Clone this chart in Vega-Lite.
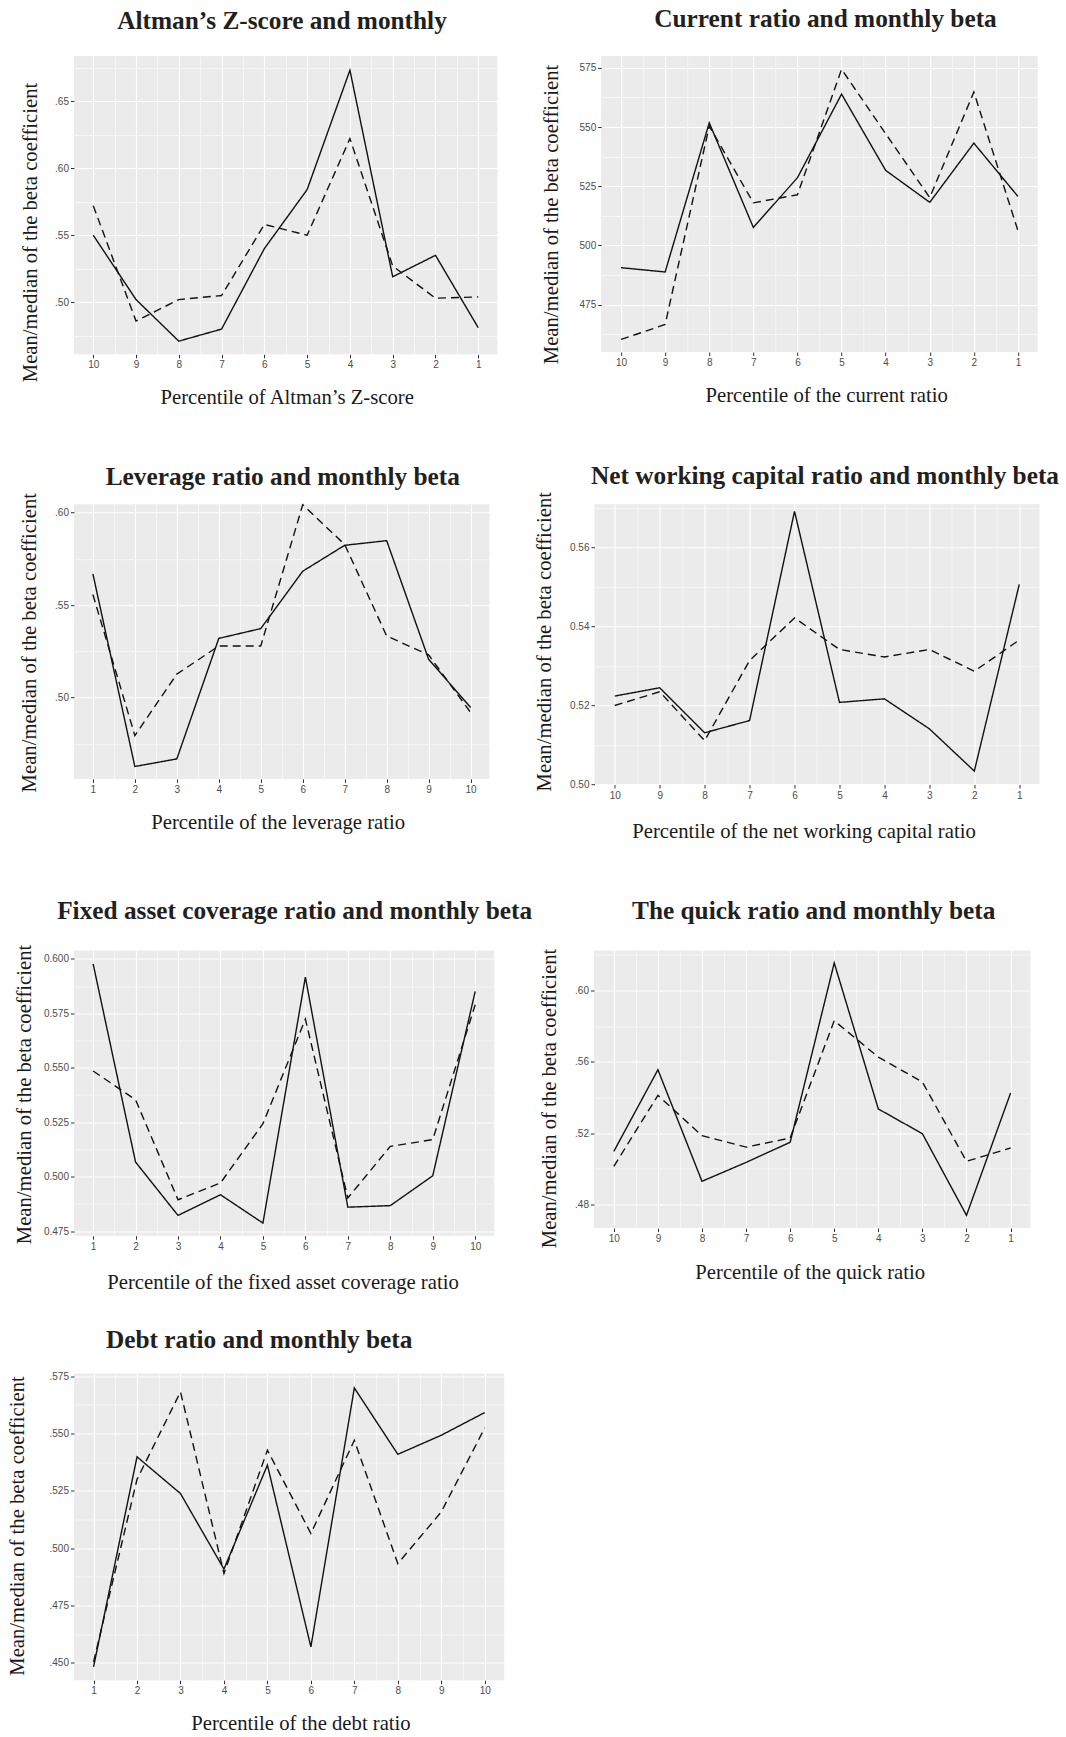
{
  "$schema": "https://vega.github.io/schema/vega-lite/v6.json",
  "background": "white",
  "padding": {"left": 6, "top": 6, "right": 0, "bottom": 0},
  "data": {
    "values": [
      {"panel": "altman", "pct": 10, "stat": "mean", "beta": 0.550},
      {"panel": "altman", "pct": 9, "stat": "mean", "beta": 0.502},
      {"panel": "altman", "pct": 8, "stat": "mean", "beta": 0.471},
      {"panel": "altman", "pct": 7, "stat": "mean", "beta": 0.480},
      {"panel": "altman", "pct": 6, "stat": "mean", "beta": 0.540},
      {"panel": "altman", "pct": 5, "stat": "mean", "beta": 0.584},
      {"panel": "altman", "pct": 4, "stat": "mean", "beta": 0.673},
      {"panel": "altman", "pct": 3, "stat": "mean", "beta": 0.519},
      {"panel": "altman", "pct": 2, "stat": "mean", "beta": 0.535},
      {"panel": "altman", "pct": 1, "stat": "mean", "beta": 0.481},
      {"panel": "altman", "pct": 10, "stat": "median", "beta": 0.572},
      {"panel": "altman", "pct": 9, "stat": "median", "beta": 0.486},
      {"panel": "altman", "pct": 8, "stat": "median", "beta": 0.502},
      {"panel": "altman", "pct": 7, "stat": "median", "beta": 0.505},
      {"panel": "altman", "pct": 6, "stat": "median", "beta": 0.558},
      {"panel": "altman", "pct": 5, "stat": "median", "beta": 0.550},
      {"panel": "altman", "pct": 4, "stat": "median", "beta": 0.622},
      {"panel": "altman", "pct": 3, "stat": "median", "beta": 0.527},
      {"panel": "altman", "pct": 2, "stat": "median", "beta": 0.503},
      {"panel": "altman", "pct": 1, "stat": "median", "beta": 0.504},

      {"panel": "current", "pct": 10, "stat": "mean", "beta": 0.4906},
      {"panel": "current", "pct": 9, "stat": "mean", "beta": 0.4888},
      {"panel": "current", "pct": 8, "stat": "mean", "beta": 0.5518},
      {"panel": "current", "pct": 7, "stat": "mean", "beta": 0.5076},
      {"panel": "current", "pct": 6, "stat": "mean", "beta": 0.5286},
      {"panel": "current", "pct": 5, "stat": "mean", "beta": 0.5639},
      {"panel": "current", "pct": 4, "stat": "mean", "beta": 0.5317},
      {"panel": "current", "pct": 3, "stat": "mean", "beta": 0.5182},
      {"panel": "current", "pct": 2, "stat": "mean", "beta": 0.5432},
      {"panel": "current", "pct": 1, "stat": "mean", "beta": 0.5207},
      {"panel": "current", "pct": 10, "stat": "median", "beta": 0.4603},
      {"panel": "current", "pct": 9, "stat": "median", "beta": 0.4666},
      {"panel": "current", "pct": 8, "stat": "median", "beta": 0.5504},
      {"panel": "current", "pct": 7, "stat": "median", "beta": 0.5180},
      {"panel": "current", "pct": 6, "stat": "median", "beta": 0.5214},
      {"panel": "current", "pct": 5, "stat": "median", "beta": 0.5744},
      {"panel": "current", "pct": 4, "stat": "median", "beta": 0.5472},
      {"panel": "current", "pct": 3, "stat": "median", "beta": 0.5202},
      {"panel": "current", "pct": 2, "stat": "median", "beta": 0.5648},
      {"panel": "current", "pct": 1, "stat": "median", "beta": 0.5062},

      {"panel": "leverage", "pct": 1, "stat": "mean", "beta": 0.5669},
      {"panel": "leverage", "pct": 2, "stat": "mean", "beta": 0.4628},
      {"panel": "leverage", "pct": 3, "stat": "mean", "beta": 0.4669},
      {"panel": "leverage", "pct": 4, "stat": "mean", "beta": 0.5320},
      {"panel": "leverage", "pct": 5, "stat": "mean", "beta": 0.5373},
      {"panel": "leverage", "pct": 6, "stat": "mean", "beta": 0.5683},
      {"panel": "leverage", "pct": 7, "stat": "mean", "beta": 0.5823},
      {"panel": "leverage", "pct": 8, "stat": "mean", "beta": 0.5848},
      {"panel": "leverage", "pct": 9, "stat": "mean", "beta": 0.5207},
      {"panel": "leverage", "pct": 10, "stat": "mean", "beta": 0.4947},
      {"panel": "leverage", "pct": 1, "stat": "median", "beta": 0.5557},
      {"panel": "leverage", "pct": 2, "stat": "median", "beta": 0.4795},
      {"panel": "leverage", "pct": 3, "stat": "median", "beta": 0.5127},
      {"panel": "leverage", "pct": 4, "stat": "median", "beta": 0.5279},
      {"panel": "leverage", "pct": 5, "stat": "median", "beta": 0.5279},
      {"panel": "leverage", "pct": 6, "stat": "median", "beta": 0.6042},
      {"panel": "leverage", "pct": 7, "stat": "median", "beta": 0.5827},
      {"panel": "leverage", "pct": 8, "stat": "median", "beta": 0.5333},
      {"panel": "leverage", "pct": 9, "stat": "median", "beta": 0.5231},
      {"panel": "leverage", "pct": 10, "stat": "median", "beta": 0.4920},

      {"panel": "nwc", "pct": 10, "stat": "mean", "beta": 0.5224},
      {"panel": "nwc", "pct": 9, "stat": "mean", "beta": 0.5245},
      {"panel": "nwc", "pct": 8, "stat": "mean", "beta": 0.5131},
      {"panel": "nwc", "pct": 7, "stat": "mean", "beta": 0.5162},
      {"panel": "nwc", "pct": 6, "stat": "mean", "beta": 0.5692},
      {"panel": "nwc", "pct": 5, "stat": "mean", "beta": 0.5208},
      {"panel": "nwc", "pct": 4, "stat": "mean", "beta": 0.5217},
      {"panel": "nwc", "pct": 3, "stat": "mean", "beta": 0.5141},
      {"panel": "nwc", "pct": 2, "stat": "mean", "beta": 0.5034},
      {"panel": "nwc", "pct": 1, "stat": "mean", "beta": 0.5507},
      {"panel": "nwc", "pct": 10, "stat": "median", "beta": 0.5200},
      {"panel": "nwc", "pct": 9, "stat": "median", "beta": 0.5235},
      {"panel": "nwc", "pct": 8, "stat": "median", "beta": 0.5111},
      {"panel": "nwc", "pct": 7, "stat": "median", "beta": 0.5314},
      {"panel": "nwc", "pct": 6, "stat": "median", "beta": 0.5422},
      {"panel": "nwc", "pct": 5, "stat": "median", "beta": 0.5342},
      {"panel": "nwc", "pct": 4, "stat": "median", "beta": 0.5323},
      {"panel": "nwc", "pct": 3, "stat": "median", "beta": 0.5342},
      {"panel": "nwc", "pct": 2, "stat": "median", "beta": 0.5287},
      {"panel": "nwc", "pct": 1, "stat": "median", "beta": 0.5366},

      {"panel": "fixed", "pct": 1, "stat": "mean", "beta": 0.5977},
      {"panel": "fixed", "pct": 2, "stat": "mean", "beta": 0.5067},
      {"panel": "fixed", "pct": 3, "stat": "mean", "beta": 0.4822},
      {"panel": "fixed", "pct": 4, "stat": "mean", "beta": 0.4917},
      {"panel": "fixed", "pct": 5, "stat": "mean", "beta": 0.4787},
      {"panel": "fixed", "pct": 6, "stat": "mean", "beta": 0.5916},
      {"panel": "fixed", "pct": 7, "stat": "mean", "beta": 0.4860},
      {"panel": "fixed", "pct": 8, "stat": "mean", "beta": 0.4867},
      {"panel": "fixed", "pct": 9, "stat": "mean", "beta": 0.5004},
      {"panel": "fixed", "pct": 10, "stat": "mean", "beta": 0.5850},
      {"panel": "fixed", "pct": 1, "stat": "median", "beta": 0.5485},
      {"panel": "fixed", "pct": 2, "stat": "median", "beta": 0.5353},
      {"panel": "fixed", "pct": 3, "stat": "median", "beta": 0.4894},
      {"panel": "fixed", "pct": 4, "stat": "median", "beta": 0.4971},
      {"panel": "fixed", "pct": 5, "stat": "median", "beta": 0.5243},
      {"panel": "fixed", "pct": 6, "stat": "median", "beta": 0.5723},
      {"panel": "fixed", "pct": 7, "stat": "median", "beta": 0.4902},
      {"panel": "fixed", "pct": 8, "stat": "median", "beta": 0.5139},
      {"panel": "fixed", "pct": 9, "stat": "median", "beta": 0.5170},
      {"panel": "fixed", "pct": 10, "stat": "median", "beta": 0.5789},

      {"panel": "quick", "pct": 10, "stat": "mean", "beta": 0.5097},
      {"panel": "quick", "pct": 9, "stat": "mean", "beta": 0.5555},
      {"panel": "quick", "pct": 8, "stat": "mean", "beta": 0.4929},
      {"panel": "quick", "pct": 7, "stat": "mean", "beta": 0.5035},
      {"panel": "quick", "pct": 6, "stat": "mean", "beta": 0.5148},
      {"panel": "quick", "pct": 5, "stat": "mean", "beta": 0.6154},
      {"panel": "quick", "pct": 4, "stat": "mean", "beta": 0.5335},
      {"panel": "quick", "pct": 3, "stat": "mean", "beta": 0.5196},
      {"panel": "quick", "pct": 2, "stat": "mean", "beta": 0.4738},
      {"panel": "quick", "pct": 1, "stat": "mean", "beta": 0.5424},
      {"panel": "quick", "pct": 10, "stat": "median", "beta": 0.5013},
      {"panel": "quick", "pct": 9, "stat": "median", "beta": 0.5411},
      {"panel": "quick", "pct": 8, "stat": "median", "beta": 0.5185},
      {"panel": "quick", "pct": 7, "stat": "median", "beta": 0.5121},
      {"panel": "quick", "pct": 6, "stat": "median", "beta": 0.5172},
      {"panel": "quick", "pct": 5, "stat": "median", "beta": 0.5830},
      {"panel": "quick", "pct": 4, "stat": "median", "beta": 0.5626},
      {"panel": "quick", "pct": 3, "stat": "median", "beta": 0.5486},
      {"panel": "quick", "pct": 2, "stat": "median", "beta": 0.5041},
      {"panel": "quick", "pct": 1, "stat": "median", "beta": 0.5116},

      {"panel": "debt", "pct": 1, "stat": "mean", "beta": 0.4483},
      {"panel": "debt", "pct": 2, "stat": "mean", "beta": 0.5398},
      {"panel": "debt", "pct": 3, "stat": "mean", "beta": 0.5238},
      {"panel": "debt", "pct": 4, "stat": "mean", "beta": 0.4909},
      {"panel": "debt", "pct": 5, "stat": "mean", "beta": 0.5362},
      {"panel": "debt", "pct": 6, "stat": "mean", "beta": 0.4570},
      {"panel": "debt", "pct": 7, "stat": "mean", "beta": 0.5698},
      {"panel": "debt", "pct": 8, "stat": "mean", "beta": 0.5409},
      {"panel": "debt", "pct": 9, "stat": "mean", "beta": 0.5492},
      {"panel": "debt", "pct": 10, "stat": "mean", "beta": 0.5591},
      {"panel": "debt", "pct": 1, "stat": "median", "beta": 0.4505},
      {"panel": "debt", "pct": 2, "stat": "median", "beta": 0.5300},
      {"panel": "debt", "pct": 3, "stat": "median", "beta": 0.5681},
      {"panel": "debt", "pct": 4, "stat": "median", "beta": 0.4890},
      {"panel": "debt", "pct": 5, "stat": "median", "beta": 0.5427},
      {"panel": "debt", "pct": 6, "stat": "median", "beta": 0.5064},
      {"panel": "debt", "pct": 7, "stat": "median", "beta": 0.5470},
      {"panel": "debt", "pct": 8, "stat": "median", "beta": 0.4933},
      {"panel": "debt", "pct": 9, "stat": "median", "beta": 0.5158},
      {"panel": "debt", "pct": 10, "stat": "median", "beta": 0.5524}
    ]
  },
  "spacing": 55.2,
  "vconcat": [
    {
      "bounds": "flush",
      "spacing": 103.2,
      "hconcat": [
        {
          "width": 423.5, "height": 298.3,
          "title": {"text": "Altman’s Z-score and monthly", "offset": 22, "dx": -3.75},
          "transform": [{"filter": "datum.panel === 'altman'"}],
          "mark": {"type": "line", "strokeWidth": 1.4, "color": "#111111"},
          "encoding": {
            "x": {"field": "pct", "type": "quantitative",
              "scale": {"domain": [0.55, 10.45], "reverse": true, "nice": false, "zero": false},
              "axis": {"title": "Percentile of Altman’s Z-score", "titlePadding": 18, "titleX": 212.7,
                "values": [1, 1.5, 2, 2.5, 3, 3.5, 4, 4.5, 5, 5.5, 6, 6.5, 7, 7.5, 8, 8.5, 9, 9.5, 10],
                "labelExpr": "datum.value % 1 ? '' : format(datum.value, 'd')",
                "tickOpacity": {"condition": {"test": "datum.value % 1 != 0", "value": 0}, "value": 1},
                "gridWidth": {"condition": {"test": "datum.value % 1 != 0", "value": 0.55}, "value": 1.1}}},
            "y": {"field": "beta", "type": "quantitative",
              "scale": {"domain": [0.4612, 0.6836], "nice": false, "zero": false},
              "axis": {"title": "Mean/median of the beta coefficient", "titlePadding": 14.1, "titleY": 176,
                "values": [0.475, 0.5, 0.525, 0.55, 0.575, 0.6, 0.625, 0.65, 0.675],
                "labelExpr": "abs(datum.value / 0.05 - round(datum.value / 0.05)) > 0.01 ? '' : substring(format(datum.value, '.2f'), 1)",
                "tickOpacity": {"condition": {"test": "abs(datum.value / 0.05 - round(datum.value / 0.05)) > 0.01", "value": 0}, "value": 1},
                "gridWidth": {"condition": {"test": "abs(datum.value / 0.05 - round(datum.value / 0.05)) > 0.01", "value": 0.55}, "value": 1.1}}},
            "strokeDash": {"field": "stat", "type": "nominal",
              "scale": {"domain": ["mean", "median"], "range": [[1, 0], [8, 5]]}, "legend": null}
          }
        },
        {
          "width": 436.6, "height": 296,
          "title": {"text": "Current ratio and monthly beta", "offset": 24, "dx": 6},
          "transform": [{"filter": "datum.panel === 'current'"}],
          "mark": {"type": "line", "strokeWidth": 1.4, "color": "#111111"},
          "encoding": {
            "x": {"field": "pct", "type": "quantitative",
              "scale": {"domain": [0.55, 10.45], "reverse": true, "nice": false, "zero": false},
              "axis": {"title": "Percentile of the current ratio", "titlePadding": 17.5, "titleX": 225,
                "values": [1, 1.5, 2, 2.5, 3, 3.5, 4, 4.5, 5, 5.5, 6, 6.5, 7, 7.5, 8, 8.5, 9, 9.5, 10],
                "labelExpr": "datum.value % 1 ? '' : format(datum.value, 'd')",
                "tickOpacity": {"condition": {"test": "datum.value % 1 != 0", "value": 0}, "value": 1},
                "gridWidth": {"condition": {"test": "datum.value % 1 != 0", "value": 0.55}, "value": 1.1}}},
            "y": {"field": "beta", "type": "quantitative",
              "scale": {"domain": [0.4550, 0.5800], "nice": false, "zero": false},
              "axis": {"title": "Mean/median of the beta coefficient", "titlePadding": 18, "titleY": 158,
                "values": [0.4625, 0.475, 0.4875, 0.5, 0.5125, 0.525, 0.5375, 0.55, 0.5625, 0.575],
                "labelExpr": "abs(datum.value / 0.025 - round(datum.value / 0.025)) > 0.01 ? '' : substring(format(datum.value, '.3f'), 2)",
                "tickOpacity": {"condition": {"test": "abs(datum.value / 0.025 - round(datum.value / 0.025)) > 0.01", "value": 0}, "value": 1},
                "gridWidth": {"condition": {"test": "abs(datum.value / 0.025 - round(datum.value / 0.025)) > 0.01", "value": 0.55}, "value": 1.1}}},
            "strokeDash": {"field": "stat", "type": "nominal",
              "scale": {"domain": ["mean", "median"], "range": [[1, 0], [8, 5]]}, "legend": null}
          }
        }
      ]
    },
    {
      "spacing": 57.3,
      "vconcat": [
        {
          "bounds": "flush",
          "spacing": 104.5,
          "hconcat": [
            {
              "width": 415.5, "height": 274.7,
              "title": {"text": "Leverage ratio and monthly beta", "offset": 2.5, "dx": 1},
              "transform": [{"filter": "datum.panel === 'leverage'"}],
              "mark": {"type": "line", "strokeWidth": 1.4, "color": "#111111"},
              "encoding": {
                "x": {"field": "pct", "type": "quantitative",
                  "scale": {"domain": [0.55, 10.45], "nice": false, "zero": false},
                  "axis": {"title": "Percentile of the leverage ratio", "titlePadding": 18.3, "titleX": 203.7,
                    "values": [1, 1.5, 2, 2.5, 3, 3.5, 4, 4.5, 5, 5.5, 6, 6.5, 7, 7.5, 8, 8.5, 9, 9.5, 10],
                    "labelExpr": "datum.value % 1 ? '' : format(datum.value, 'd')",
                    "tickOpacity": {"condition": {"test": "datum.value % 1 != 0", "value": 0}, "value": 1},
                    "gridWidth": {"condition": {"test": "datum.value % 1 != 0", "value": 0.55}, "value": 1.1}}},
                "y": {"field": "beta", "type": "quantitative",
                  "scale": {"domain": [0.4561, 0.6045], "nice": false, "zero": false},
                  "axis": {"title": "Mean/median of the beta coefficient", "titlePadding": 15.4, "titleY": 138,
                    "values": [0.475, 0.5, 0.525, 0.55, 0.575, 0.6],
                    "labelExpr": "abs(datum.value / 0.05 - round(datum.value / 0.05)) > 0.01 ? '' : substring(format(datum.value, '.2f'), 1)",
                    "tickOpacity": {"condition": {"test": "abs(datum.value / 0.05 - round(datum.value / 0.05)) > 0.01", "value": 0}, "value": 1},
                    "gridWidth": {"condition": {"test": "abs(datum.value / 0.05 - round(datum.value / 0.05)) > 0.01", "value": 0.55}, "value": 1.1}}},
                "strokeDash": {"field": "stat", "type": "nominal",
                  "scale": {"domain": ["mean", "median"], "range": [[1, 0], [8, 5]]}, "legend": null}
              }
            },
            {
              "width": 445, "height": 280.3,
              "title": {"text": "Net working capital ratio and monthly beta", "offset": 2.5, "dx": 8},
              "transform": [{"filter": "datum.panel === 'nwc'"}],
              "mark": {"type": "line", "strokeWidth": 1.4, "color": "#111111"},
              "encoding": {
                "x": {"field": "pct", "type": "quantitative",
                  "scale": {"domain": [0.55, 10.45], "reverse": true, "nice": false, "zero": false},
                  "axis": {"title": "Percentile of the net working capital ratio", "titlePadding": 21.2, "titleX": 209,
                    "values": [1, 1.5, 2, 2.5, 3, 3.5, 4, 4.5, 5, 5.5, 6, 6.5, 7, 7.5, 8, 8.5, 9, 9.5, 10],
                    "labelExpr": "datum.value % 1 ? '' : format(datum.value, 'd')",
                    "tickOpacity": {"condition": {"test": "datum.value % 1 != 0", "value": 0}, "value": 1},
                    "gridWidth": {"condition": {"test": "datum.value % 1 != 0", "value": 0.55}, "value": 1.1}}},
                "y": {"field": "beta", "type": "quantitative",
                  "scale": {"domain": [0.50, 0.5710], "nice": false, "zero": false},
                  "axis": {"title": "Mean/median of the beta coefficient", "titlePadding": 15.5, "titleY": 137,
                    "values": [0.5, 0.51, 0.52, 0.53, 0.54, 0.55, 0.56, 0.57],
                    "labelExpr": "abs(datum.value / 0.02 - round(datum.value / 0.02)) > 0.01 ? '' : format(datum.value, '.2f')",
                    "tickOpacity": {"condition": {"test": "abs(datum.value / 0.02 - round(datum.value / 0.02)) > 0.01", "value": 0}, "value": 1},
                    "gridWidth": {"condition": {"test": "abs(datum.value / 0.02 - round(datum.value / 0.02)) > 0.01", "value": 0.55}, "value": 1.1}}},
                "strokeDash": {"field": "stat", "type": "nominal",
                  "scale": {"domain": ["mean", "median"], "range": [[1, 0], [8, 5]]}, "legend": null}
              }
            }
          ]
        },
        {
          "spacing": 35,
          "vconcat": [
            {
              "bounds": "flush",
              "spacing": 99,
              "hconcat": [
                {
                  "width": 420.3, "height": 285.2,
                  "title": {"text": "Fixed asset coverage ratio and monthly beta", "offset": 19.5, "dx": 10.5},
                  "transform": [{"filter": "datum.panel === 'fixed'"}],
                  "mark": {"type": "line", "strokeWidth": 1.4, "color": "#111111"},
                  "encoding": {
                    "x": {"field": "pct", "type": "quantitative",
                      "scale": {"domain": [0.55, 10.45], "nice": false, "zero": false},
                      "axis": {"title": "Percentile of the fixed asset coverage ratio", "titlePadding": 21.5, "titleX": 208.5,
                        "values": [1, 1.5, 2, 2.5, 3, 3.5, 4, 4.5, 5, 5.5, 6, 6.5, 7, 7.5, 8, 8.5, 9, 9.5, 10],
                        "labelExpr": "datum.value % 1 ? '' : format(datum.value, 'd')",
                        "tickOpacity": {"condition": {"test": "datum.value % 1 != 0", "value": 0}, "value": 1},
                        "gridWidth": {"condition": {"test": "datum.value % 1 != 0", "value": 0.55}, "value": 1.1}}},
                    "y": {"field": "beta", "type": "quantitative",
                      "scale": {"domain": [0.4729, 0.6038], "nice": false, "zero": false},
                      "axis": {"title": "Mean/median of the beta coefficient", "titlePadding": 9.3, "titleY": 143.5,
                        "values": [0.475, 0.4875, 0.5, 0.5125, 0.525, 0.5375, 0.55, 0.5625, 0.575, 0.5875, 0.6],
                        "labelExpr": "abs(datum.value / 0.025 - round(datum.value / 0.025)) > 0.01 ? '' : format(datum.value, '.3f')",
                        "tickOpacity": {"condition": {"test": "abs(datum.value / 0.025 - round(datum.value / 0.025)) > 0.01", "value": 0}, "value": 1},
                        "gridWidth": {"condition": {"test": "abs(datum.value / 0.025 - round(datum.value / 0.025)) > 0.01", "value": 0.55}, "value": 1.1}}},
                    "strokeDash": {"field": "stat", "type": "nominal",
                      "scale": {"domain": ["mean", "median"], "range": [[1, 0], [8, 5]]}, "legend": null}
                  }
                },
                {
                  "width": 436.4, "height": 277.5,
                  "title": {"text": "The quick ratio and monthly beta", "offset": 23.5, "dx": 1.5},
                  "transform": [{"filter": "datum.panel === 'quick'"}],
                  "mark": {"type": "line", "strokeWidth": 1.4, "color": "#111111"},
                  "encoding": {
                    "x": {"field": "pct", "type": "quantitative",
                      "scale": {"domain": [0.55, 10.45], "reverse": true, "nice": false, "zero": false},
                      "axis": {"title": "Percentile of the quick ratio", "titlePadding": 18.5, "titleX": 215.7,
                        "values": [1, 1.5, 2, 2.5, 3, 3.5, 4, 4.5, 5, 5.5, 6, 6.5, 7, 7.5, 8, 8.5, 9, 9.5, 10],
                        "labelExpr": "datum.value % 1 ? '' : format(datum.value, 'd')",
                        "tickOpacity": {"condition": {"test": "datum.value % 1 != 0", "value": 0}, "value": 1},
                        "gridWidth": {"condition": {"test": "datum.value % 1 != 0", "value": 0.55}, "value": 1.1}}},
                    "y": {"field": "beta", "type": "quantitative",
                      "scale": {"domain": [0.4667, 0.6224], "nice": false, "zero": false},
                      "axis": {"title": "Mean/median of the beta coefficient", "titlePadding": 15.4, "titleY": 147.5,
                        "values": [0.48, 0.5, 0.52, 0.54, 0.56, 0.58, 0.6, 0.62],
                        "labelExpr": "abs(datum.value / 0.04 - round(datum.value / 0.04)) > 0.01 ? '' : substring(format(datum.value, '.2f'), 1)",
                        "tickOpacity": {"condition": {"test": "abs(datum.value / 0.04 - round(datum.value / 0.04)) > 0.01", "value": 0}, "value": 1},
                        "gridWidth": {"condition": {"test": "abs(datum.value / 0.04 - round(datum.value / 0.04)) > 0.01", "value": 0.55}, "value": 1.1}}},
                    "strokeDash": {"field": "stat", "type": "nominal",
                      "scale": {"domain": ["mean", "median"], "range": [[1, 0], [8, 5]]}, "legend": null}
                  }
                }
              ]
            },
            {
              "width": 430.3, "height": 306.7,
              "title": {"text": "Debt ratio and monthly beta", "offset": 17.8, "dx": -30},
              "transform": [{"filter": "datum.panel === 'debt'"}],
              "mark": {"type": "line", "strokeWidth": 1.4, "color": "#111111"},
              "encoding": {
                "x": {"field": "pct", "type": "quantitative",
                  "scale": {"domain": [0.55, 10.45], "nice": false, "zero": false},
                  "axis": {"title": "Percentile of the debt ratio", "titlePadding": 17.3, "titleX": 226.5,
                    "values": [1, 1.5, 2, 2.5, 3, 3.5, 4, 4.5, 5, 5.5, 6, 6.5, 7, 7.5, 8, 8.5, 9, 9.5, 10],
                    "labelExpr": "datum.value % 1 ? '' : format(datum.value, 'd')",
                    "tickOpacity": {"condition": {"test": "datum.value % 1 != 0", "value": 0}, "value": 1},
                    "gridWidth": {"condition": {"test": "datum.value % 1 != 0", "value": 0.55}, "value": 1.1}}},
                "y": {"field": "beta", "type": "quantitative",
                  "scale": {"domain": [0.4425, 0.5761], "nice": false, "zero": false},
                  "axis": {"title": "Mean/median of the beta coefficient", "titlePadding": 21.5, "titleY": 152,
                    "values": [0.45, 0.4625, 0.475, 0.4875, 0.5, 0.5125, 0.525, 0.5375, 0.55, 0.5625, 0.575],
                    "labelExpr": "abs(datum.value / 0.025 - round(datum.value / 0.025)) > 0.01 ? '' : substring(format(datum.value, '.3f'), 1)",
                    "tickOpacity": {"condition": {"test": "abs(datum.value / 0.025 - round(datum.value / 0.025)) > 0.01", "value": 0}, "value": 1},
                    "gridWidth": {"condition": {"test": "abs(datum.value / 0.025 - round(datum.value / 0.025)) > 0.01", "value": 0.55}, "value": 1.1}}},
                "strokeDash": {"field": "stat", "type": "nominal",
                  "scale": {"domain": ["mean", "median"], "range": [[1, 0], [8, 5]]}, "legend": null}
              }
            }
          ]
        }
      ]
    }
  ],
  "config": {
    "view": {"fill": "#EBEBEB", "stroke": null},
    "axis": {
      "domain": false,
      "grid": true,
      "gridColor": "#FFFFFF",
      "tickColor": "#333333",
      "tickSize": 3.5,
      "tickWidth": 1,
      "labelFont": "Liberation Sans",
      "labelFontSize": 10,
      "labelColor": "#4D4D4D",
      "labelPadding": 2,
      "labelOverlap": false,
      "labelFlush": false,
      "labelBound": false,
      "titleFont": "Liberation Serif",
      "titleFontSize": 20.7,
      "titleFontWeight": "normal",
      "titleColor": "#1A1A1A"
    },
    "title": {
      "font": "Liberation Serif",
      "fontSize": 25.3,
      "fontWeight": "bold",
      "color": "#231F20",
      "anchor": "middle",
      "frame": "group",
      "baseline": "alphabetic"
    }
  }
}
